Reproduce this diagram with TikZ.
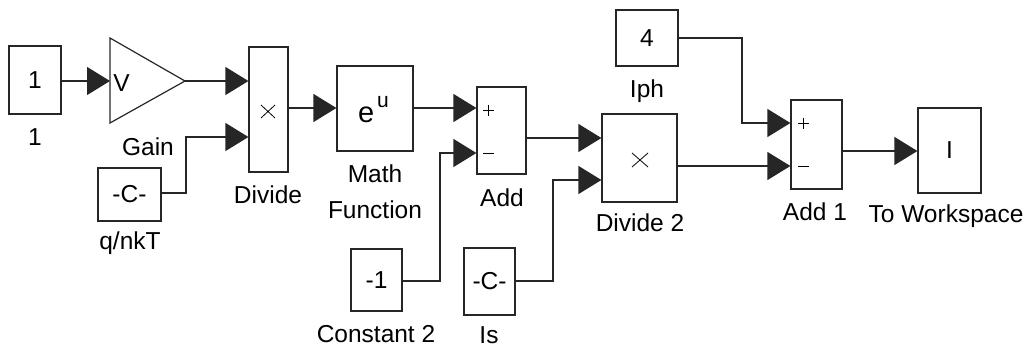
\documentclass[tikz,border=0pt]{standalone}
\usepackage{fontspec}
\setmainfont{Liberation Sans}
\usetikzlibrary{arrows.meta}
\begin{document}
\begin{tikzpicture}[x=1pt,y=-1pt,
  blk/.style={draw=black!85, line width=1.2pt, inner sep=0pt, font=\fontsize{24.5}{28}\selectfont},
  lbl/.style={anchor=base, inner sep=0pt, font=\fontsize{24.5}{28}\selectfont},
  wire/.style={draw=black!85, line width=1.2pt, -{Triangle[length=23pt,width=28pt]}},
  sym/.style={line width=0.8pt}]
\useasboundingbox (0,0) rectangle (1030,348);

% blocks
\node[blk, minimum width=52pt, minimum height=68pt] (one) at (35,80) {1};
\draw[blk] (110,38) -- (185,81) -- (110,123) -- cycle;
\coordinate (gainin) at (110,81);
\coordinate (gainout) at (185,81);
\node[lbl] (gainV) at (121.5,91) {V};
\node[blk, minimum width=63pt, minimum height=53pt] (qnkt) at (129.5,194.5) {-C-};
\node[blk, minimum width=39pt, minimum height=125pt] (div) at (268.5,109.5) {};
\node[blk, minimum width=76pt, minimum height=85pt] (math) at (375,108.5) {};
\node[blk, minimum width=49pt, minimum height=87pt] (add) at (501.5,130.5) {};
\node[blk, minimum width=51pt, minimum height=62pt] (const2) at (376.5,280) {-1};
\node[blk, minimum width=51pt, minimum height=67pt] (is) at (489.5,281.5) {-C-};
\node[blk, minimum width=75pt, minimum height=88pt] (d2) at (639.5,158) {};
\node[blk, minimum width=62pt, minimum height=56pt] (iph) at (647,38) {4};
\node[blk, minimum width=51pt, minimum height=89pt] (add1) at (816.5,144.5) {};
\node[blk, minimum width=63pt, minimum height=85pt] (tw) at (949.5,150.5) {I};

% block symbols
\node[anchor=base west, inner sep=0pt, font=\fontsize{29}{30}\selectfont] (ee) at (358,122) {e};
\node[anchor=base west, inner sep=0pt, font=\fontsize{21}{22}\selectfont] (uu) at (377,107) {u};
\draw[sym] (261,105) -- (275,118) (261,118) -- (275,105);
\draw[sym] (632,153) -- (648,167) (632,167) -- (648,153);
\draw[sym] (483,110) -- (494,110) (488.5,104.5) -- (488.5,115.5);
\draw[sym] (483,153) -- (494,153);
\draw[sym] (798,123) -- (809,123) (803.5,117.5) -- (803.5,128.5);
\draw[sym] (798,166) -- (809,166);

% labels
\node[lbl] (l1) at (35,145) {1};
\node[lbl] (lgain) at (148,155) {Gain};
\node[lbl] (lqnkt) at (130,249) {q/nkT};
\node[lbl] (ldiv) at (268,203) {Divide};
\node[lbl] (lmath) at (375,182) {Math};
\node[lbl] (lfun) at (375,218) {Function};
\node[lbl] (ladd) at (502,206) {Add};
\node[lbl] (lc2) at (376,342) {Constant 2};
\node[lbl] (lis) at (489,343) {Is};
\node[lbl] (ld2) at (640,231) {Divide 2};
\node[lbl] (liph) at (647,97) {Iph};
\node[lbl] (ladd1) at (815,220) {Add 1};
\node[lbl] (ltw) at (946,222) {To Workspace};

% wires
\draw[wire] (one.east |- 0,81) -- (gainin);
\draw[wire] (gainout) -- (div.west |- 0,81);
\draw[wire] (qnkt.east |- 0,193) -- (186,193) -- (186,137) -- (div.west |- 0,137);
\draw[wire] (div.east |- 0,108) -- (math.west |- 0,108);
\draw[wire] (math.east |- 0,108) -- (add.west |- 0,108);
\draw[wire] (const2.east |- 0,281) -- (440,281) -- (440,153) -- (add.west |- 0,153);
\draw[wire] (add.east |- 0,138) -- (d2.west |- 0,138);
\draw[wire] (is.east |- 0,281) -- (553,281) -- (553,180) -- (d2.west |- 0,180);
\draw[wire] (iph.east |- 0,38) -- (742,38) -- (742,123) -- (add1.west |- 0,123);
\draw[wire] (d2.east |- 0,166) -- (add1.west |- 0,166);
\draw[wire] (add1.east |- 0,151) -- (tw.west |- 0,151);
\end{tikzpicture}
\end{document}
